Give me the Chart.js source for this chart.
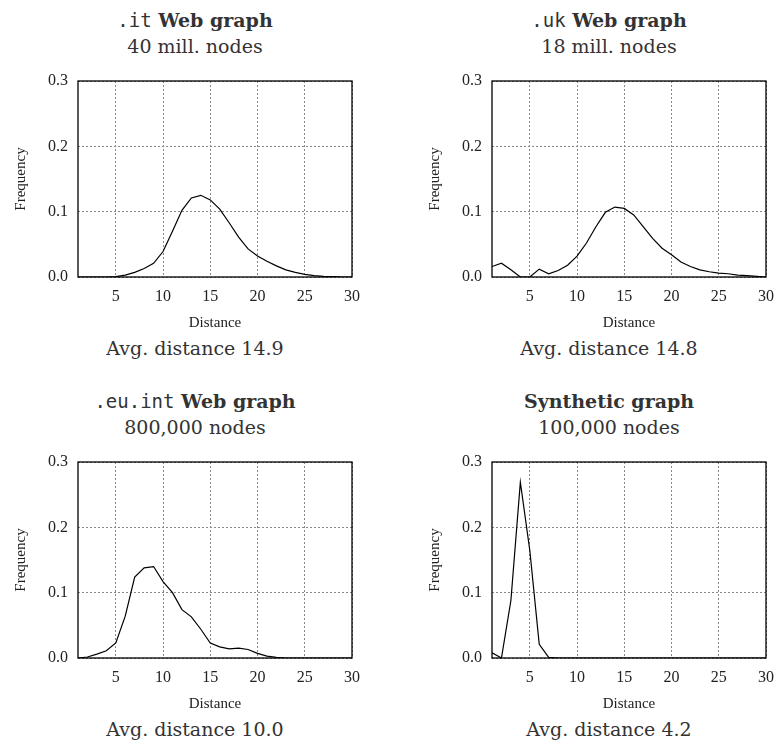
<!DOCTYPE html>
<html>
<head>
<meta charset="utf-8">
<script src="https://cdn.jsdelivr.net/npm/chart.js@4.4.1/dist/chart.umd.min.js"></script>
<style>
  body { margin: 0; width: 784px; height: 744px; overflow: hidden; background: #fff; }
  .panel { position: absolute; width: 370px; height: 372px; }
  .panel canvas { position: absolute; left: 0; top: 0; }
  .txt { position: absolute; left: 0; width: 390px; text-align: center; line-height: 1;
         font-family: "DejaVu Serif", serif; font-size: 19px; color: #333; white-space: nowrap; }
  .tt { font-family: "DejaVu Sans Mono", monospace; font-weight: normal; }
  .title { top: 11px; font-weight: bold; }
  .sub { top: 37px; }
  .avg { top: 339px; }
</style>
</head>
<body>

<div class="panel" style="left:0;top:0">
  <div class="txt title"><span class="tt">.it</span> Web graph</div>
  <div class="txt sub">40 mill. nodes</div>
  <canvas id="c1" width="370" height="336"></canvas>
  <div class="txt avg">Avg. distance 14.9</div>
</div>
<div class="panel" style="left:414px;top:0">
  <div class="txt title"><span class="tt">.uk</span> Web graph</div>
  <div class="txt sub">18 mill. nodes</div>
  <canvas id="c2" width="370" height="336"></canvas>
  <div class="txt avg">Avg. distance 14.8</div>
</div>
<div class="panel" style="left:0;top:381px">
  <div class="txt title"><span class="tt">.eu.int</span> Web graph</div>
  <div class="txt sub">800,000 nodes</div>
  <canvas id="c3" width="370" height="336"></canvas>
  <div class="txt avg">Avg. distance 10.0</div>
</div>
<div class="panel" style="left:414px;top:381px">
  <div class="txt title">Synthetic graph</div>
  <div class="txt sub">100,000 nodes</div>
  <canvas id="c4" width="370" height="336"></canvas>
  <div class="txt avg">Avg. distance 4.2</div>
</div>

<script>
/* ------------------
    Data
-------------------*/
var distance = [1, 2, 3, 4, 5, 6, 7, 8, 9, 10, 11, 12, 13, 14, 15,
                16, 17, 18, 19, 20, 21, 22, 23, 24, 25, 26, 27, 28, 29, 30];

var freqIt = [0, 0, 0, 0, 0.0005, 0.003, 0.007, 0.013, 0.021, 0.039,
              0.070, 0.102, 0.121, 0.125, 0.118, 0.104, 0.083, 0.061, 0.043, 0.032,
              0.024, 0.017, 0.011, 0.007, 0.004, 0.002, 0.001, 0.0005, 0, 0];

var freqUk = [0.016, 0.021, 0.011, 0.0, 0.0, 0.012, 0.005, 0.010, 0.018, 0.032,
              0.052, 0.077, 0.099, 0.107, 0.105, 0.095, 0.077, 0.059, 0.044, 0.034,
              0.023, 0.016, 0.011, 0.008, 0.006, 0.005, 0.003, 0.002, 0.001, 0.0];

var freqEu = [0, 0.0015, 0.006, 0.011, 0.023, 0.064, 0.124, 0.138, 0.140, 0.117,
              0.100, 0.074, 0.063, 0.044, 0.023, 0.017, 0.014, 0.015, 0.013, 0.007,
              0.003, 0.001, 0, 0, 0, 0, 0, 0, 0, 0];

var freqSyn = [0.008, 0.0, 0.088, 0.269, 0.165, 0.021, 0.001, 0, 0, 0,
               0, 0, 0, 0, 0, 0, 0, 0, 0, 0,
               0, 0, 0, 0, 0, 0, 0, 0, 0, 0];

var yTicks = [0, 0.1, 0.2, 0.3];

/* ------------------
    Frame round the plot area
-------------------*/
var framePlugin = {
  id: 'frame',
  afterDraw: function (chart) {
    var a = chart.chartArea, ctx = chart.ctx;
    ctx.save();
    ctx.strokeStyle = '#000';
    ctx.lineWidth = 1.3;
    ctx.strokeRect(a.left, a.top, a.right - a.left, a.bottom - a.top);
    ctx.restore();
  }
};

var tickFont = { family: '"Liberation Serif", serif', size: 16 };
var titleFont = { family: '"Liberation Serif", serif', size: 15 };

function makeChart(id, values) {
  return new Chart(document.getElementById(id), {
    type: 'line',
    data: {
      datasets: [{
        data: distance.map(function (d, i) { return { x: d, y: values[i] }; }),
        borderColor: '#000',
        borderWidth: 1.2,
        pointRadius: 0,
        tension: 0,
        fill: false
      }]
    },
    options: {
      responsive: false,
      animation: false,
      layout: { padding: { top: 81, left: 8, right: 15, bottom: 0 } },
      plugins: { legend: { display: false }, tooltip: { enabled: false } },
      scales: {
        x: {
          type: 'linear',
          min: 1,
          max: 30,
          afterBuildTicks: function (axis) {
            axis.ticks = axis.ticks.filter(function (t) { return t.value % 5 === 0; });
          },
          afterFit: function (s) { s.height = 59; },
          ticks: { stepSize: 5, color: '#222', font: tickFont, padding: 10, maxRotation: 0 },
          grid: { color: '#888', drawTicks: false },
          border: { display: false, dash: [2, 2] },
          title: { display: true, text: 'Distance', color: '#222', font: titleFont }
        },
        y: {
          min: 0,
          max: 0.3,
          afterBuildTicks: function (axis) {
            axis.ticks = yTicks.map(function (v) { return { value: v }; });
          },
          afterFit: function (s) { s.width = 70; },
          ticks: {
            color: '#222', font: tickFont, padding: 10,
            callback: function (v) { return v.toFixed(1); }
          },
          grid: { color: '#888', drawTicks: false },
          border: { display: false, dash: [2, 2] },
          title: { display: true, text: 'Frequency', color: '#222', font: titleFont }
        }
      }
    },
    plugins: [framePlugin]
  });
}

makeChart('c1', freqIt);
makeChart('c2', freqUk);
makeChart('c3', freqEu);
makeChart('c4', freqSyn);
</script>
</body>
</html>
